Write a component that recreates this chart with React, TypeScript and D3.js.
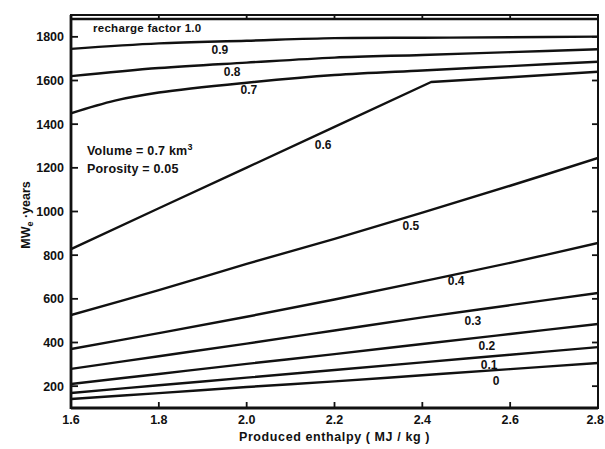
import React, { useEffect } from 'react';
import * as d3 from 'd3';

// Produced enthalpy grid (MJ/kg)
const enthalpy = [1.6, 1.8, 2.0, 2.2, 2.4, 2.6, 2.8];
// 0.6 curve has a break near 2.42
const enthalpy06 = [1.6, 1.8, 2.0, 2.2, 2.42, 2.6, 2.8];
const enthalpy07 = [1.6, 1.7, 1.8, 2.0, 2.2, 2.4, 2.6, 2.8];

// MWe-years for each recharge factor
const rf10 = [1882, 1882, 1882, 1882, 1882, 1882, 1882];
const rf09 = [1745, 1770, 1782, 1794, 1796, 1798, 1801];
const rf08 = [1620, 1657, 1682, 1705, 1717, 1730, 1743];
const rf07 = [1450, 1508, 1545, 1590, 1625, 1646, 1666, 1686];
const rf06 = [828, 1015, 1201, 1388, 1593, 1615, 1640];
const rf05 = [526, 640, 760, 875, 995, 1118, 1245];
const rf04 = [370, 443, 518, 597, 680, 765, 856];
const rf03 = [279, 337, 395, 455, 515, 571, 627];
const rf02 = [210, 256, 302, 347, 393, 439, 485];
const rf01 = [169, 204, 239, 274, 309, 344, 379];
const rf00 = [141, 168, 196, 222, 250, 278, 306];

const factorLabels = ['1.0', '0.9', '0.8', '0.7', '0.6', '0.5', '0.4', '0.3', '0.2', '0.1', '0'];

const xTicks = [1.6, 1.8, 2.0, 2.2, 2.4, 2.6, 2.8];
const yTicks = [200, 400, 600, 800, 1000, 1200, 1400, 1600, 1800];

const W = 605;
const H = 449;
const margin = { top: 15, right: 7, bottom: 41, left: 71 };

const font = '"Liberation Sans", Arial, sans-serif';

export default function App() {
  useEffect(() => {
    document.body.style.margin = '0';
  }, []);

  const x = d3.scaleLinear().domain([1.6, 2.8]).range([margin.left, W - margin.right]);
  const y = d3.scaleLinear().domain([100, 1900]).range([H - margin.bottom, margin.top]);

  const series = [
    { xs: enthalpy, ys: rf10 },
    { xs: enthalpy, ys: rf09 },
    { xs: enthalpy, ys: rf08 },
    { xs: enthalpy07, ys: rf07 },
    { xs: enthalpy06, ys: rf06 },
    { xs: enthalpy, ys: rf05 },
    { xs: enthalpy, ys: rf04 },
    { xs: enthalpy, ys: rf03 },
    { xs: enthalpy, ys: rf02 },
    { xs: enthalpy, ys: rf01 },
    { xs: enthalpy, ys: rf00 },
  ];

  // label anchors in data units (enthalpy, MWe-years)
  const labelPos: [number, number][] = [
    [1.65, 1840],
    [1.939, 1740],
    [1.967, 1639],
    [2.005, 1561],
    [2.174, 1305],
    [2.374, 938],
    [2.477, 682],
    [2.515, 503],
    [2.547, 384],
    [2.552, 297],
    [2.568, 228],
  ];

  const smooth = d3.line<[number, number]>()
    .x(d => x(d[0]))
    .y(d => y(d[1]))
    .curve(d3.curveCatmullRom.alpha(0.5));
  const straight = d3.line<[number, number]>()
    .x(d => x(d[0]))
    .y(d => y(d[1]));

  const x0 = margin.left;
  const x1 = W - margin.right;
  const y0 = H - margin.bottom;
  const y1 = margin.top;

  return (
    <svg width={W} height={H} style={{ display: 'block', background: '#fff' }}>
      <defs>
        <clipPath id="plot">
          <rect x={x0} y={y1} width={x1 - x0} height={y0 - y1} />
        </clipPath>
      </defs>

      {/* curves */}
      <g clipPath="url(#plot)">
        {series.map((s, i) => {
          const pts = s.xs.map((v, j) => [v, s.ys[j]] as [number, number]);
          const gen = i === 4 ? straight : smooth;
          return (
            <path key={i} d={gen(pts) || ''} fill="none" stroke="#111"
              strokeWidth={2.4} strokeLinejoin="round" />
          );
        })}
      </g>

      {/* frame */}
      <rect x={x0} y={y1} width={x1 - x0} height={y0 - y1} fill="none" stroke="#111" strokeWidth={2} />
      <line x1={x0} x2={x0} y1={y1} y2={y0 + 1} stroke="#111" strokeWidth={2.8} />
      <line x1={x0} x2={x1} y1={y0} y2={y0} stroke="#111" strokeWidth={2.8} />

      {/* ticks, inward on all sides */}
      <g stroke="#111" strokeWidth={1.8}>
        {xTicks.map(t => (
          <g key={`xt${t}`}>
            <line x1={x(t)} x2={x(t)} y1={y0} y2={y0 - 6} />
            <line x1={x(t)} x2={x(t)} y1={y1} y2={y1 + 5} />
          </g>
        ))}
        {yTicks.map(t => (
          <g key={`yt${t}`}>
            <line x1={x0} x2={x0 + 7} y1={y(t)} y2={y(t)} />
            <line x1={x1} x2={x1 - 6} y1={y(t)} y2={y(t)} />
          </g>
        ))}
      </g>

      {/* tick labels */}
      <g fontFamily={font} fontWeight="bold" fontSize={12.5} fill="#111">
        {xTicks.map((t, i) => {
          const last = i === xTicks.length - 1;
          return (
            <text key={`xl${t}`} x={last ? W - 1 : x(t)} y={y0 + 16}
              textAnchor={last ? 'end' : 'middle'}>{t.toFixed(1)}</text>
          );
        })}
        {yTicks.map(t => (
          <text key={`yl${t}`} x={x0 - 7} y={y(t) + 4.5} textAnchor="end">{t}</text>
        ))}
      </g>

      {/* curve labels */}
      <g fontFamily={font} fontWeight="bold" fontSize={12} fill="#111">
        {factorLabels.map((lab, i) => {
          const [lx, ly] = labelPos[i];
          if (i === 0) {
            return (
              <text key={lab} x={x(lx)} y={y(ly) + 4} fontSize={11.5} letterSpacing={0.3}>
                {`recharge factor ${lab}`}
              </text>
            );
          }
          return (
            <text key={lab} x={x(lx)} y={y(ly) + 4.5} textAnchor="middle">{lab}</text>
          );
        })}
      </g>

      {/* annotation */}
      <g fontFamily={font} fontWeight="bold" fontSize={12.5} fill="#111">
        <text x={87} y={155} letterSpacing={0.2}>
          Volume = 0.7 km<tspan dy={-5} fontSize={9}>3</tspan>
        </text>
        <text x={87} y={173} letterSpacing={0.2}>Porosity = 0.05</text>
      </g>

      {/* axis titles */}
      <text x={(x0 + x1) / 2} y={441} textAnchor="middle" fontFamily={font}
        fontWeight="bold" fontSize={12.5} letterSpacing={0.6} fill="#111">
        Produced enthalpy  ( MJ / kg )
      </text>
      <text transform="translate(30,215) rotate(-90)" textAnchor="middle" fontFamily={font}
        fontWeight="bold" fontSize={12.5} fill="#111">
        MW<tspan dy={3} fontSize={9}>e</tspan><tspan dy={-3}> ·years</tspan>
      </text>
    </svg>
  );
}
